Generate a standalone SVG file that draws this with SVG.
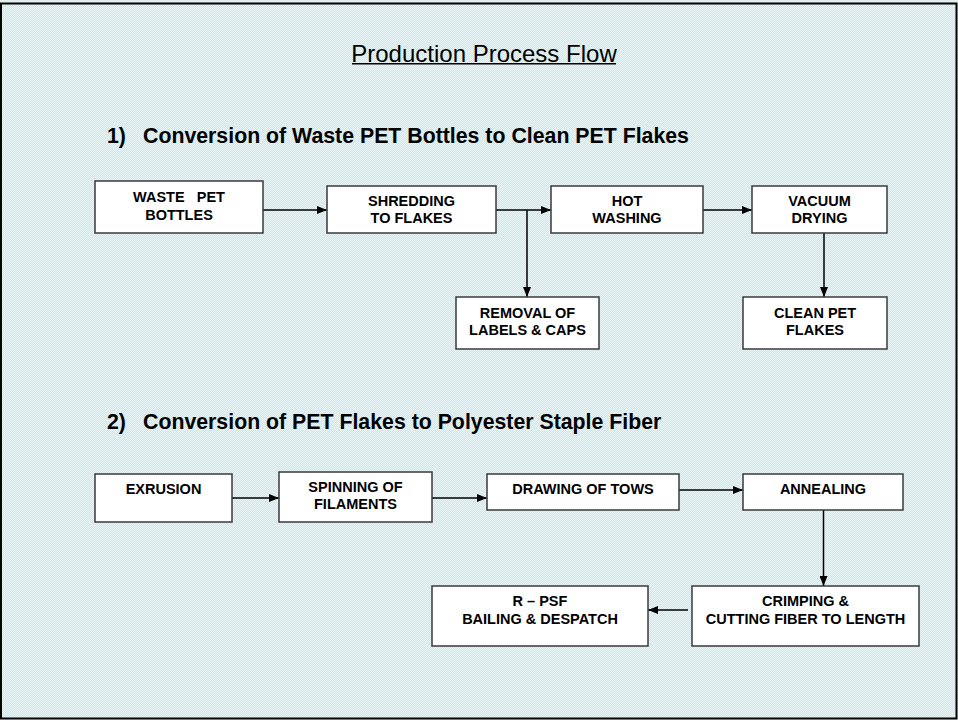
<svg xmlns="http://www.w3.org/2000/svg" width="958" height="720" viewBox="0 0 958 720">
<style>
.box{fill:#ffffff;stroke:#3a3a3a;stroke-width:1.5}
.t{font-family:"Liberation Sans",Arial,sans-serif;font-weight:bold;font-size:14.5px;fill:#000;text-anchor:middle;white-space:pre}
.h{font-family:"Liberation Sans",Arial,sans-serif;font-weight:bold;font-size:21.3px;fill:#000;white-space:pre}
.ttl{font-family:"Liberation Sans",Arial,sans-serif;font-size:24px;fill:#000;text-anchor:middle}
.c{stroke:#000;stroke-width:1.5;fill:none}
</style>
<defs>
<pattern id="bg" width="2" height="2" patternUnits="userSpaceOnUse">
<rect width="2" height="2" fill="#cde8eb"/>
<rect width="1" height="1" fill="#e8f5f6"/>
<rect x="1" y="1" width="1" height="1" fill="#e8f5f6"/>
</pattern>
<marker id="ah" viewBox="0 0 10 8" refX="10" refY="4" markerWidth="10" markerHeight="8" markerUnits="userSpaceOnUse" orient="auto">
<path d="M0,0 L10,4 L0,8 Z" fill="#000"/>
</marker>
</defs>
<rect x="0" y="0" width="958" height="720" fill="#e4eeee"/>
<rect x="1" y="3.5" width="955.5" height="715" fill="url(#bg)" stroke="#000" stroke-width="2"/>

<g id="title">
<text class="ttl" x="484" y="62">Production Process Flow</text>
<line x1="352" y1="63.8" x2="616" y2="63.8" stroke="#000" stroke-width="1.5"/>
</g>
<g id="heading1"><text class="h" x="107" y="143">1)<tspan x="143">Conversion of Waste PET Bottles to Clean PET Flakes</tspan></text></g>
<g id="heading2"><text class="h" x="107" y="429">2)<tspan x="143">Conversion of PET Flakes to Polyester Staple Fiber</tspan></text></g>

<g id="connectors">
<line class="c" x1="263" y1="210" x2="327" y2="210" marker-end="url(#ah)"/>
<line class="c" x1="496" y1="210" x2="551" y2="210" marker-end="url(#ah)"/>
<line class="c" x1="527" y1="210" x2="527" y2="297" marker-end="url(#ah)"/>
<line class="c" x1="703" y1="210" x2="752" y2="210" marker-end="url(#ah)"/>
<line class="c" x1="824" y1="233" x2="824" y2="297" marker-end="url(#ah)"/>
<line class="c" x1="232" y1="498" x2="279" y2="498" marker-end="url(#ah)"/>
<line class="c" x1="432" y1="498" x2="487" y2="498" marker-end="url(#ah)"/>
<line class="c" x1="679" y1="490" x2="743" y2="490" marker-end="url(#ah)"/>
<line class="c" x1="823.5" y1="510" x2="823.5" y2="586" marker-end="url(#ah)"/>
<line class="c" x1="688" y1="610" x2="648" y2="610" marker-end="url(#ah)"/>
</g>

<g id="waste-pet-bottles">
<rect class="box" x="95" y="181" width="168" height="52"/>
<text class="t" x="179" y="202">WASTE   PET</text>
<text class="t" x="179" y="220">BOTTLES</text>
</g>
<g id="shredding">
<rect class="box" x="327" y="186" width="169" height="47"/>
<text class="t" x="411.5" y="206">SHREDDING</text>
<text class="t" x="411.5" y="223">TO FLAKES</text>
</g>
<g id="hot-washing">
<rect class="box" x="551" y="186" width="152" height="47"/>
<text class="t" x="627" y="206">HOT</text>
<text class="t" x="627" y="223">WASHING</text>
</g>
<g id="vacuum-drying">
<rect class="box" x="752" y="186" width="135" height="47"/>
<text class="t" x="819.5" y="206">VACUUM</text>
<text class="t" x="819.5" y="223">DRYING</text>
</g>
<g id="removal">
<rect class="box" x="456" y="297" width="143" height="52"/>
<text class="t" x="527.5" y="318">REMOVAL OF</text>
<text class="t" x="527.5" y="335">LABELS &amp; CAPS</text>
</g>
<g id="clean-pet-flakes">
<rect class="box" x="743" y="297" width="144" height="52"/>
<text class="t" x="815" y="318">CLEAN PET</text>
<text class="t" x="815" y="335">FLAKES</text>
</g>

<g id="extrusion">
<rect class="box" x="95" y="474" width="137" height="48"/>
<text class="t" x="163.5" y="494">EXRUSION</text>
</g>
<g id="spinning">
<rect class="box" x="279" y="472" width="153" height="50"/>
<text class="t" x="355.5" y="492">SPINNING OF</text>
<text class="t" x="355.5" y="509">FILAMENTS</text>
</g>
<g id="drawing">
<rect class="box" x="487" y="474" width="192" height="36"/>
<text class="t" x="583" y="494">DRAWING OF TOWS</text>
</g>
<g id="annealing">
<rect class="box" x="743" y="474" width="160" height="36"/>
<text class="t" x="823" y="494">ANNEALING</text>
</g>
<g id="crimping">
<rect class="box" x="692" y="586" width="227" height="60"/>
<text class="t" x="805.5" y="606">CRIMPING &amp;</text>
<text class="t" x="805.5" y="624">CUTTING FIBER TO LENGTH</text>
</g>
<g id="rpsf">
<rect class="box" x="432" y="586" width="216" height="60"/>
<text class="t" x="540" y="606">R – PSF</text>
<text class="t" x="540" y="624">BAILING &amp; DESPATCH</text>
</g>
</svg>
